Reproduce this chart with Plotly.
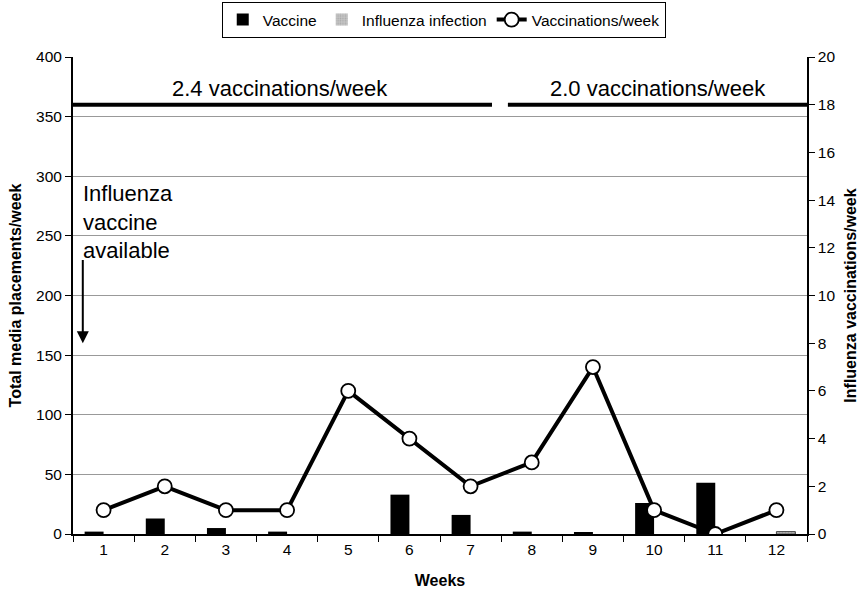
import plotly.graph_objects as go

weeks = ["1", "2", "3", "4", "5", "6", "7", "8", "9", "10", "11", "12"]
vaccine = [2, 13, 5, 2, 0, 33, 16, 2, 1, 26, 43, 0]
influenza = [0, 0, 0, 0, 0, 0, 0, 0, 0, 0, 0, 2]
vacc_per_week = [1, 2, 1, 1, 6, 4, 2, 3, 7, 1, 0, 1]

left_ticks = [0, 50, 100, 150, 200, 250, 300, 350, 400]
right_ticks = [0, 2, 4, 6, 8, 10, 12, 14, 16, 18, 20]

font = "Liberation Sans, Arial, sans-serif"

fig = go.Figure()
fig.add_trace(go.Bar(x=weeks, y=vaccine, name="Vaccine",
                     marker=dict(color="black", line=dict(width=0))))
fig.add_trace(go.Bar(x=weeks, y=influenza, name="Influenza infection",
                     marker=dict(color="#c4c4c4",
                                 line=dict(color="#444444", width=[1 if v else 0 for v in influenza]),
                                 pattern=dict(shape=".", fgcolor="#8a8a8a", size=3, solidity=0.3))))
fig.add_trace(go.Scatter(x=weeks, y=vacc_per_week, name="Vaccinations/week", yaxis="y2",
                         mode="lines+markers",
                         line=dict(color="black", width=4),
                         marker=dict(symbol="circle", size=14, color="white",
                                     line=dict(color="black", width=1.8))))

# period lines
fig.add_shape(type="line", xref="x", yref="y", x0=-0.5, x1=6.35, y0=360, y1=360,
              line=dict(color="black", width=4))
fig.add_shape(type="line", xref="x", yref="y", x0=6.61, x1=11.5, y0=360, y1=360,
              line=dict(color="black", width=4))

fig.add_annotation(x=2.88, y=374, xref="x", yref="y", text="2.4 vaccinations/week",
                   showarrow=False, font=dict(size=22, color="black", family=font))
fig.add_annotation(x=9.06, y=374, xref="x", yref="y", text="2.0 vaccinations/week",
                   showarrow=False, font=dict(size=22, color="black", family=font))
fig.add_annotation(x=-0.37, y=262, xref="x", yref="y", text="Influenza<br>vaccine<br>available",
                   showarrow=False, xanchor="left", yanchor="middle", align="left",
                   font=dict(size=22, color="black", family=font))
fig.add_annotation(x=-0.34, y=160, ax=-0.34, ay=231, xref="x", yref="y", axref="x", ayref="y",
                   text="", showarrow=True, arrowhead=2, arrowsize=1.2, arrowwidth=2,
                   arrowcolor="black")

fig.update_layout(
    width=865, height=589,
    margin=dict(l=73, r=58, t=57, b=55, autoexpand=False),
    paper_bgcolor="white", plot_bgcolor="white",
    font=dict(family=font, size=15.5, color="black"),
    barmode="group", bargap=0.38, bargroupgap=0,
    showlegend=True,
    legend=dict(orientation="h", xref="container", yref="container",
                x=0.513, xanchor="center", y=0.966, yanchor="middle",
                bordercolor="black", borderwidth=1, font=dict(size=15.5),
                itemwidth=30, tracegroupgap=0),
    xaxis=dict(title=dict(text="<b>Weeks</b>", font=dict(size=16), standoff=18),
               automargin=False,
               showline=True, linecolor="black", linewidth=2,
               ticks="outside", tickson="boundaries", ticklen=6, tickcolor="black",
               showgrid=False, range=[-0.5, 11.5]),
    yaxis=dict(title=dict(text="<b>Total media placements/week</b>", font=dict(size=16), standoff=10),
               automargin=False,
               range=[0, 400], tickvals=left_ticks, showline=True, linecolor="black", linewidth=2,
               ticks="outside", ticklen=6, tickcolor="black",
               showgrid=True, gridcolor="#999999", gridwidth=1, zeroline=False),
    yaxis2=dict(title=dict(text="<b>Influenza vaccinations/week</b>", font=dict(size=16), standoff=10),
                automargin=False,
                overlaying="y", side="right", range=[0, 20], tickvals=right_ticks,
                showline=True, linecolor="black", linewidth=1.5,
                ticks="outside", ticklen=6, tickcolor="black", showgrid=False, zeroline=False),
)

fig.write_html("out.html", config={"displayModeBar": False},
               post_script="document.body.style.margin='0';document.body.style.overflow='hidden';")
